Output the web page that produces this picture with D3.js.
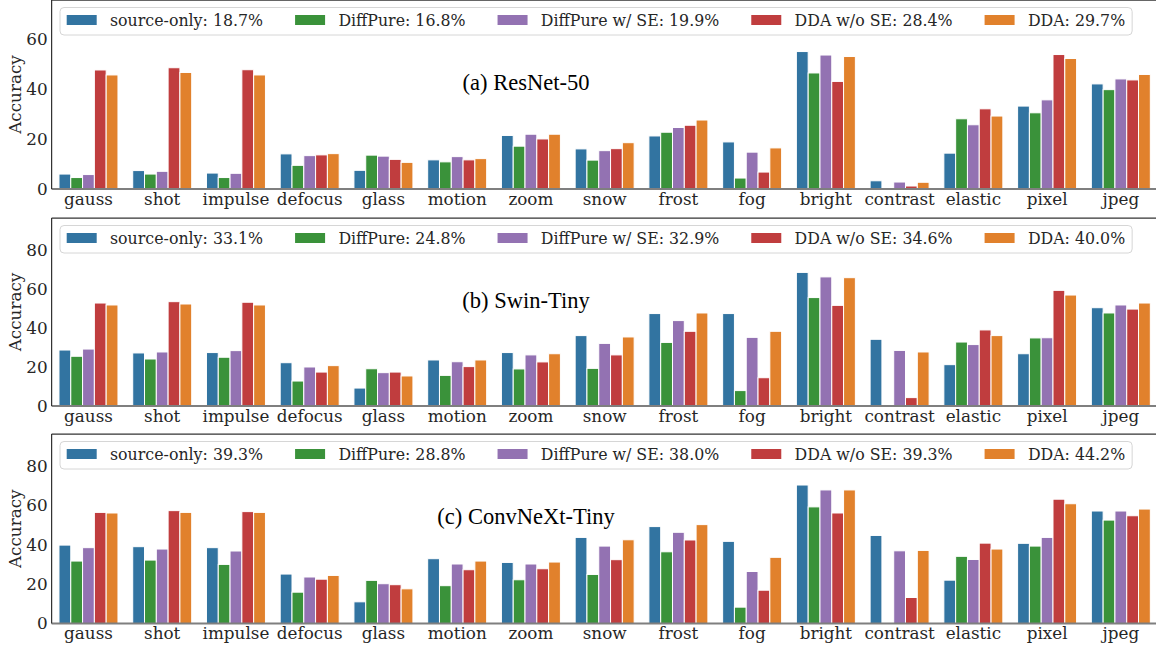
<!DOCTYPE html>
<html>
<head>
<meta charset="utf-8">
<script src="https://cdn.jsdelivr.net/npm/d3@7"></script>
<style>
  html, body { margin: 0; padding: 0; background: #fff; }
  svg { display: block; }
</style>
</head>
<body>
<svg id="chart" width="1156" height="649"></svg>
<script>
// Corruption types (x categories)
const corruptions = ["gauss", "shot", "impulse", "defocus", "glass", "motion", "zoom",
  "snow", "frost", "fog", "bright", "contrast", "elastic", "pixel", "jpeg"];

// Methods, in bar order
const methods = ["source-only", "DiffPure", "DiffPure w/ SE", "DDA w/o SE", "DDA"];
const methodColors = ["#3274a1", "#3a923a", "#9372b2", "#c03d3e", "#e1812c"];

// (a) ResNet-50 accuracies per method
const resnetSource   = [6.0, 7.4, 6.4, 14.1, 7.5, 11.7, 21.5, 16.1, 21.3, 18.9, 55.2, 3.3, 14.4, 33.3, 42.2];
const resnetDiffPure = [4.6, 6.0, 4.6, 9.5, 13.6, 10.9, 17.2, 11.6, 22.8, 4.4, 46.6, 0.0, 28.2, 30.6, 39.9];
const resnetDiffSE   = [5.8, 7.1, 6.3, 13.4, 13.2, 13.0, 22.0, 15.4, 24.7, 14.8, 53.8, 2.8, 25.8, 35.8, 44.2];
const resnetDDAnoSE  = [47.8, 48.7, 47.9, 13.7, 11.9, 11.7, 20.1, 16.2, 25.6, 6.8, 43.2, 1.2, 32.2, 54.0, 43.8];
const resnetDDA      = [45.8, 46.8, 45.8, 14.2, 10.7, 12.2, 22.0, 18.6, 27.7, 16.5, 53.2, 2.7, 29.3, 52.4, 46.0];
const resnetAverages = ["18.7%", "16.8%", "19.9%", "28.4%", "29.7%"];

// (b) Swin-Tiny accuracies per method
const swinSource   = [28.7, 27.2, 27.4, 22.2, 9.2, 23.6, 27.4, 36.1, 47.4, 47.4, 68.5, 34.2, 21.2, 26.8, 50.4];
const swinDiffPure = [25.5, 24.1, 25.0, 12.8, 19.1, 15.7, 19.0, 19.3, 32.6, 7.9, 55.6, 0.0, 32.8, 34.9, 47.7];
const swinDiffSE   = [29.2, 27.7, 28.4, 20.0, 17.1, 22.7, 26.2, 32.1, 43.8, 35.2, 66.2, 28.5, 31.5, 35.0, 51.8];
const swinDDAnoSE  = [52.8, 53.5, 53.2, 17.4, 17.4, 20.2, 22.6, 26.2, 38.3, 14.5, 51.6, 4.3, 39.0, 59.3, 49.7];
const swinDDA      = [51.8, 52.3, 51.8, 20.7, 15.4, 23.6, 26.8, 35.4, 47.7, 38.3, 65.8, 27.7, 36.1, 56.9, 52.8];
const swinAverages = ["33.1%", "24.8%", "32.9%", "34.6%", "40.0%"];

// (c) ConvNeXt-Tiny accuracies per method
const convnextSource   = [39.8, 39.0, 38.5, 25.1, 11.0, 32.9, 31.0, 43.7, 49.2, 41.7, 70.3, 44.7, 22.0, 40.7, 57.1];
const convnextDiffPure = [31.7, 32.2, 30.0, 15.9, 21.9, 19.2, 22.2, 24.9, 36.4, 8.3, 59.2, 0.0, 34.1, 39.3, 52.5];
const convnextDiffSE   = [38.5, 37.8, 36.8, 23.6, 20.2, 30.2, 30.2, 39.3, 46.3, 26.4, 67.8, 36.9, 32.5, 43.7, 57.1];
const convnextDDAnoSE  = [56.4, 57.3, 56.8, 22.5, 19.7, 27.3, 27.8, 32.4, 42.4, 16.9, 56.1, 13.2, 40.8, 63.1, 54.7];
const convnextDDA      = [56.1, 56.4, 56.4, 24.4, 17.6, 31.7, 31.2, 42.5, 50.2, 33.6, 67.8, 37.1, 37.8, 60.8, 58.1];
const convnextAverages = ["39.3%", "28.8%", "38.0%", "39.3%", "44.2%"];

// y-axis tick values per panel
const resnetTicks = [0, 20, 40, 60];
const largeTicks = [0, 20, 40, 60, 80];

const panels = [
  { title: "(a) ResNet-50", series: [resnetSource, resnetDiffPure, resnetDiffSE, resnetDDAnoSE, resnetDDA],
    averages: resnetAverages, ymax: 75.9, ticks: resnetTicks, top: 0, bottom: 189 },
  { title: "(b) Swin-Tiny", series: [swinSource, swinDiffPure, swinDiffSE, swinDDAnoSE, swinDDA],
    averages: swinAverages, ymax: 96.4, ticks: largeTicks, top: 218, bottom: 406 },
  { title: "(c) ConvNeXt-Tiny", series: [convnextSource, convnextDiffPure, convnextDiffSE, convnextDDAnoSE, convnextDDA],
    averages: convnextAverages, ymax: 96.2, ticks: largeTicks, top: 434, bottom: 623.5 }
];

const svg = d3.select("#chart");
const serif = "'DejaVu Serif', serif";
const titleFont = "'Liberation Serif', 'Times New Roman', serif";

const axLeft = 51.6, axRight = 1157.7;

// Category band scale and per-method sub-scale (80% of each band)
const x = d3.scaleBand().domain(corruptions).range([axLeft, axRight]).padding(0);
const bw = x.bandwidth();
const xInner = d3.scaleBand().domain(methods).range([0.1 * bw, 0.9 * bw]).padding(0);

panels.forEach(p => {
  const g = svg.append("g");
  const y = d3.scaleLinear().domain([0, p.ymax]).range([p.bottom, p.top]);

  // Bars
  p.series.forEach((vals, mi) => {
    g.append("g")
      .selectAll("rect")
      .data(vals.map((v, ci) => ({ v, c: corruptions[ci] })))
      .join("rect")
      .filter(d => d.v > 0)
      .attr("x", d => x(d.c) + xInner(methods[mi]))
      .attr("width", xInner.bandwidth())
      .attr("y", d => y(d.v))
      .attr("height", d => y(0) - y(d.v))
      .attr("fill", methodColors[mi])
      .attr("stroke", "#ffffff")
      .attr("stroke-width", 1);
  });

  // Spines
  g.append("line").attr("x1", axLeft).attr("x2", axRight)
    .attr("y1", p.bottom).attr("y2", p.bottom)
    .attr("stroke", "#7f7f7f").attr("stroke-width", 2);
  g.append("line").attr("x1", axLeft).attr("x2", axLeft)
    .attr("y1", p.top).attr("y2", p.bottom)
    .attr("stroke", "#333333").attr("stroke-width", 1.25);
  g.append("line").attr("x1", axLeft).attr("x2", axRight)
    .attr("y1", p.top).attr("y2", p.top)
    .attr("stroke", "#333333").attr("stroke-width", 1.25);

  // y axis (labels only)
  const yAxis = d3.axisLeft(y).tickValues(p.ticks).tickSize(0).tickPadding(4)
    .tickFormat(d3.format("d"));
  const ya = g.append("g").attr("transform", `translate(${axLeft},0)`).call(yAxis);
  ya.select(".domain").remove();
  ya.selectAll("text").attr("font-family", serif).attr("font-size", 16.8).attr("fill", "#262626");

  // x axis (labels only)
  const xAxis = d3.axisBottom(x).tickSize(0).tickPadding(4);
  const xa = g.append("g").attr("transform", `translate(0,${p.bottom})`).call(xAxis);
  xa.select(".domain").remove();
  xa.selectAll("text").attr("font-family", serif).attr("font-size", 16.8).attr("fill", "#262626");

  // y label
  g.append("text")
    .attr("transform", `translate(21,${(p.top + p.bottom) / 2}) rotate(-90)`)
    .attr("text-anchor", "middle")
    .attr("font-family", serif).attr("font-size", 16.8).attr("fill", "#262626")
    .text("Accuracy");

  // Panel title
  g.append("text")
    .attr("x", 526).attr("y", p.top + 90)
    .attr("text-anchor", "middle")
    .attr("font-family", titleFont).attr("font-size", 22.5).attr("fill", "#000")
    .text(p.title);

  // Legend (one row, five entries)
  const leg = g.append("g");
  const box = leg.append("rect")
    .attr("x", 60).attr("y", p.top + 7.5)
    .attr("height", 27.5).attr("rx", 4).attr("ry", 4)
    .attr("fill", "#ffffff").attr("fill-opacity", 0.85)
    .attr("stroke", "#d6d6d6").attr("stroke-width", 1);
  let hx = 66.7;
  methods.forEach((m, mi) => {
    leg.append("rect")
      .attr("x", hx).attr("y", p.top + 15)
      .attr("width", 30).attr("height", 10)
      .attr("fill", methodColors[mi]);
    const t = leg.append("text")
      .attr("x", hx + 43.3).attr("y", p.top + 26)
      .attr("font-family", serif).attr("font-size", 15.8).attr("fill", "#262626")
      .text(`${m}: ${p.averages[mi]}`);
    const tw = t.node().getComputedTextLength();
    if (mi < methods.length - 1) hx = hx + 43.3 + tw + 32;
    else box.attr("width", hx + 43.3 + tw + 7 - 60);
  });
});
</script>
</body>
</html>
